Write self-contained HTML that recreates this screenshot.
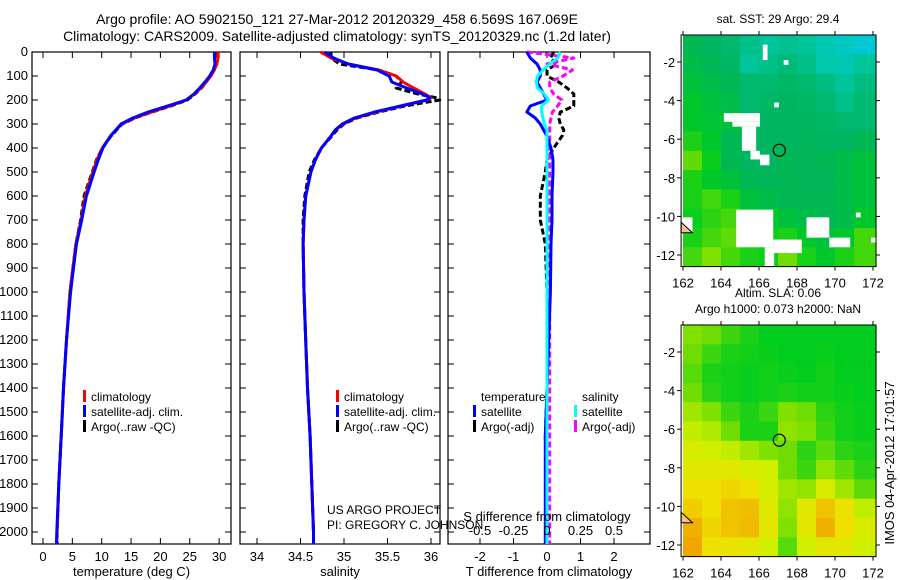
<!DOCTYPE html>
<html><head><meta charset="utf-8"><style>
html,body{margin:0;padding:0;background:#fff;}
svg{display:block;font-family:"Liberation Sans",sans-serif;}
</style></head><body>
<svg id="fig" width="900" height="580" xmlns="http://www.w3.org/2000/svg">
<text x="337" y="24" font-size="14" text-anchor="middle">Argo profile: AO 5902150_121 27-Mar-2012 20120329_458 6.569S 167.069E</text>
<text x="337" y="41" font-size="14" text-anchor="middle">Climatology: CARS2009. Satellite-adjusted climatology: synTS_20120329.nc (1.2d later)</text>
<g id="g1"></g>
<g id="g2"></g>
<g id="g3"></g>
<g id="m1"></g>
<g id="m2"></g>
<text x="327" y="514" font-size="12">US ARGO PROJECT</text>
<text x="327" y="529" font-size="12">PI: GREGORY C. JOHNSON</text>
<text transform="translate(894,463) rotate(-90)" font-size="13" text-anchor="middle">IMOS 04-Apr-2012 17:01:57</text>
</svg>
<script>
// ---- profile data ----
const depths=[0,25,50,75,100,125,150,175,200,225,250,275,300,350,400,450,500,600,700,800,900,1000,1200,1400,1600,1800,2000,2050];
const tempClim=[29.8,29.8,29.6,29.2,28.6,27.8,26.9,25.8,24.4,21.6,18.5,15.6,13.4,11.5,10.1,9.2,8.5,7.2,6.5,5.6,5.1,4.6,4.0,3.5,3.1,2.7,2.4,2.3];
const tempSat=[29.2,29.2,29.3,29.0,28.4,27.6,26.7,25.7,24.4,21.2,17.9,15.3,13.3,11.5,10.2,9.4,8.7,7.4,6.6,5.7,5.2,4.7,4.0,3.5,3.1,2.7,2.35,2.3];
const tempArgo=[29.4,29.5,29.6,29.1,28.5,27.8,27.0,25.9,24.6,21.8,18.6,15.7,13.5,11.6,10.1,9.1,8.4,7.0,6.4,5.6,5.1,4.6,4.0,3.5,3.1,2.7,2.4,2.4];
const sDepths=[0,25,50,75,100,125,150,175,190,200,225,250,275,300,325,350,400,450,500,600,700,800,1000,1200,1400,1600,1800,2000,2050];
const salSat=[34.78,34.88,35.05,35.38,35.52,35.55,35.72,35.9,35.99,35.95,35.65,35.35,35.12,34.98,34.9,34.85,34.74,34.67,34.62,34.56,34.54,34.53,34.54,34.56,34.58,34.61,34.63,34.65,34.65];
const salClim=[34.73,34.85,35.05,35.4,35.6,35.68,35.8,35.93,36.0,35.96,35.66,35.37,35.13,34.99,34.9,34.85,34.74,34.67,34.62,34.56,34.54,34.53,34.54,34.56,34.58,34.61,34.63,34.65,34.65];
const salArgo=[34.85,34.85,34.95,35.4,35.6,35.66,35.6,35.85,36.05,36.1,35.7,35.4,35.15,35.0,34.92,34.86,34.74,34.66,34.6,34.55,34.53,34.53,34.54,34.56,34.58,34.61,34.63,34.65,34.65];
const dDepths=[0,25,50,75,100,125,150,175,200,225,250,275,300,325,350,400,450,500,600,700,800,1000,1200,1400,1600,1800,2000,2050];
const tDiffSat=[-0.6,-0.5,-0.3,-0.2,-0.2,-0.3,-0.2,-0.1,0.0,-0.5,-0.6,-0.35,-0.2,-0.1,0.0,0.12,0.18,0.18,0.15,0.15,0.12,0.1,0.05,0.0,-0.05,-0.05,-0.05,-0.05];
const tDiffArgo=[0.2,0.1,0.3,0.0,0.0,0.35,0.6,0.8,0.8,0.8,0.4,0.35,0.4,0.5,0.45,0.2,0.0,-0.05,-0.2,-0.2,-0.05,0.0,0.0,0.0,-0.05,0.0,0.0,0.0];
const sDiffSat=[0.1,0.08,0.02,-0.03,-0.07,-0.08,-0.07,-0.02,0.01,-0.04,-0.04,-0.03,-0.02,0.0,0.0,0.0,0.0,0.0,0.0,0.0,0.0,0.0,0.0,0.0,0.0,0.0,0.0,0.0];
const sDiffArgo=[-0.15,0.2,0.0,0.19,0.12,0.02,0.02,0.05,0.11,0.08,0.04,0.03,0.02,0.02,0.02,0.02,0.02,0.02,0.02,0.02,0.02,0.02,0.02,0.02,0.02,0.02,0.02,0.02];
const depthTicks=[0,100,200,300,400,500,600,700,800,900,1000,1100,1200,1300,1400,1500,1600,1700,1800,1900,2000];
const tempTicks=[0,5,10,15,20,25,30];
const salTicks=[34,34.5,35,35.5,36];
const tdTicks=[-2,-1,0,1,2];
const sdTickLabels=["-0.5","-0.25","0","0.25","0.5"];
const sdTicks=[-0.5,-0.25,0,0.25,0.5];
// ---- map data (1-degree cells, rows from lat -0.6 southward, cols from lon 162) ----
const sstGrid=[
[0.36,0.34,0.31,0.26,0.23,0.25,0.23,0.18,0.13,0.08],
[0.38,0.36,0.33,0.23,0.26,0.3,0.26,0.2,0.18,0.23],
[0.4,0.38,0.36,0.31,0.31,0.33,0.31,0.28,0.23,0.28],
[0.43,0.4,0.38,0.31,0.33,0.34,0.33,0.31,0.26,0.31],
[0.43,0.41,0.4,0.36,0.34,0.34,0.34,0.33,0.31,0.31],
[0.48,0.43,0.36,0.34,0.34,0.34,0.35,0.34,0.34,0.36],
[0.56,0.46,0.36,0.34,0.34,0.36,0.35,0.36,0.38,0.4],
[0.48,0.43,0.4,0.36,0.35,0.36,0.35,0.35,0.38,0.4],
[0.48,0.53,0.48,0.4,0.38,0.36,0.36,0.36,0.38,0.4],
[0.46,0.5,0.53,0.43,0.43,0.4,0.38,0.36,0.38,0.43],
[0.48,0.53,0.56,0.48,0.46,0.48,0.43,0.4,0.43,0.53],
[0.53,0.6,0.53,0.48,0.46,0.58,0.48,0.43,0.48,0.53]];
const slaGrid=[
[0.6,0.58,0.52,0.48,0.45,0.45,0.45,0.45,0.45,0.45],
[0.58,0.52,0.48,0.47,0.46,0.45,0.45,0.46,0.45,0.45],
[0.55,0.48,0.47,0.46,0.47,0.46,0.45,0.47,0.45,0.45],
[0.58,0.5,0.47,0.46,0.47,0.48,0.47,0.47,0.46,0.45],
[0.64,0.6,0.52,0.48,0.52,0.6,0.58,0.5,0.47,0.46],
[0.68,0.66,0.58,0.48,0.48,0.62,0.6,0.52,0.47,0.46],
[0.72,0.7,0.68,0.64,0.6,0.58,0.5,0.56,0.5,0.48],
[0.75,0.75,0.75,0.72,0.7,0.58,0.52,0.62,0.56,0.5],
[0.8,0.8,0.82,0.8,0.72,0.64,0.62,0.72,0.64,0.56],
[0.84,0.8,0.86,0.87,0.74,0.62,0.75,0.86,0.78,0.68],
[0.9,0.82,0.86,0.88,0.76,0.6,0.75,0.9,0.8,0.72],
[0.92,0.8,0.78,0.76,0.7,0.55,0.7,0.76,0.75,0.7]];
// missing-data regions in SST map: [lon0, lat0, lon1, lat1]
const sstMissing=[[166.2,-1.1,166.45,-1.9],[167.3,-1.9,167.55,-2.15],[166.8,-4.1,167.05,-4.35],
[164.15,-4.65,166.05,-5.1],[164.6,-5.1,166.05,-5.35],[165.1,-5.35,165.85,-6.6],[165.55,-6.6,166.05,-7.05],[166.05,-6.8,166.55,-7.35],
[164.8,-9.65,166.75,-11.6],[166.75,-11.2,168.25,-11.9],[166.3,-11.6,166.8,-12.6],[168.5,-10.05,169.7,-11.1],[169.7,-11.1,170.8,-11.6],[171.1,-9.8,171.35,-10.05],[171.9,-11.1,172.16,-11.35],[161.9,-10.05,162.5,-10.85]];
const lonTicks=[162,164,166,168,170,172];
const latTicks=[-2,-4,-6,-8,-10,-12];
const floatLon=167.069, floatLat=-6.569;

const NS="http://www.w3.org/2000/svg";
function mk(parent,tag,attrs,txt){const e=document.createElementNS(NS,tag);for(const k in attrs)e.setAttribute(k,attrs[k]);if(txt!==undefined)e.textContent=txt;parent.appendChild(e);return e;}
const yD=d=>52+d*0.24;
const TOP=52,BOT=544;

function panel(g,x0,x1,xs,ticks,labels,title,tickName){
  const b=mk(g,'rect',{x:x0,y:TOP,width:x1-x0,height:BOT-TOP,fill:'none',stroke:'#000','stroke-width':1.2});
  
  depthTicks.forEach(d=>{
    mk(g,'line',{x1:x0,x2:x0+6,y1:yD(d),y2:yD(d),stroke:'#000'});
    mk(g,'line',{x1:x1-6,x2:x1,y1:yD(d),y2:yD(d),stroke:'#000'});
  });
  ticks.forEach((t,i)=>{
    const x=xs(t);
    mk(g,'line',{x1:x,x2:x,y1:TOP,y2:TOP+6,stroke:'#000'});
    mk(g,'line',{x1:x,x2:x,y1:BOT-6,y2:BOT,stroke:'#000'});
    const l=mk(g,'text',{x:x,y:561,'font-size':13,'text-anchor':'middle'},labels[i]);
    
  });
  const tt=mk(g,'text',{x:(x0+x1)/2,y:576,'font-size':13,'text-anchor':'middle'},title);
  
}
function line(g,xs,vals,ds,color,dash,name){
  const pts=vals.map((v,i)=>xs(v).toFixed(1)+','+yD(ds[i]).toFixed(1)).join(' ');
  const a={points:pts,fill:'none',stroke:color,'stroke-width':3,'stroke-linejoin':'round'};
  if(dash)a['stroke-dasharray']=dash;
  const p=mk(g,'polyline',a);
  
}
function legend(g,x,y,color,label){
  mk(g,'rect',{x:x,y:y-11,width:3,height:12,fill:color});
  const t=mk(g,'text',{x:x+8,y:y,'font-size':12},label);
  
}
// panel 1
const g1=document.getElementById('g1');
const xT=t=>43+t*5.87;
panel(g1,32,231,xT,tempTicks,tempTicks.map(String),'temperature (deg C)','temperature-tick');
depthTicks.forEach(d=>{const t=mk(g1,'text',{x:28,y:yD(d)+4,'font-size':13,'text-anchor':'end'},String(d));
  });
line(g1,xT,tempArgo,depths,'#000','6 3','argo-temperature-line');
line(g1,xT,tempClim,depths,'#f00',null,'climatology-temperature-line');
line(g1,xT,tempSat,depths,'#00f',null,'satellite-temperature-line');
legend(g1,83,401,'#f00','climatology');legend(g1,83,416,'#00f','satellite-adj. clim.');legend(g1,83,431,'#000','Argo(..raw -QC)');
// panel 2
const g2=document.getElementById('g2');
const xS=s=>257+(s-34)*87;
panel(g2,240,440,xS,salTicks,salTicks.map(String),'salinity','salinity-tick');
line(g2,xS,salArgo,sDepths,'#000','6 3','argo-salinity-line');
line(g2,xS,salClim,sDepths,'#f00',null,'climatology-salinity-line');
line(g2,xS,salSat,sDepths,'#00f',null,'satellite-salinity-line');
legend(g2,336,401,'#f00','climatology');legend(g2,336,416,'#00f','satellite-adj. clim.');legend(g2,336,431,'#000','Argo(..raw -QC)');
// panel 3
const g3=document.getElementById('g3');
const xTD=t=>547+t*33.5;
const xSD=s=>547+s*4*33.5;
panel(g3,448,650,xTD,tdTicks,tdTicks.map(String),'T difference from climatology','tdiff-tick');
line(g3,xTD,tDiffArgo,dDepths,'#000','6 3','argo-tdiff-line');
line(g3,xSD,sDiffArgo,dDepths,'#f0f','6 3','argo-sdiff-line');
line(g3,xTD,tDiffSat,dDepths,'#00f',null,'satellite-tdiff-line');
line(g3,xSD,sDiffSat,dDepths,'#0ff',null,'satellite-sdiff-line');
sdTicks.forEach((s,i)=>{const t=mk(g3,'text',{x:xSD(s),y:535,'font-size':13,'text-anchor':'middle'},sdTickLabels[i]);
  });
const st=mk(g3,'text',{x:547,y:521,'font-size':13,'text-anchor':'middle'},'S difference from climatology');

const lh1=mk(g3,'text',{x:481,y:401,'font-size':12},'temperature');
const lh2=mk(g3,'text',{x:582,y:401,'font-size':12},'salinity');
legend(g3,473,416,'#00f','satellite');legend(g3,473,431,'#000','Argo(-adj)');
legend(g3,574,416,'#0ff','satellite');legend(g3,574,431,'#f0f','Argo(-adj)');

// ---- maps ----
const cstops=[[0,[0,200,240]],[0.2,[0,200,170]],[0.35,[0,180,90]],[0.45,[0,205,30]],[0.6,[128,224,0]],[0.7,[208,240,0]],[0.8,[240,224,0]],[0.9,[240,176,0]],[1,[240,128,0]]];
function cmap(v){for(let i=1;i<cstops.length;i++){if(v<=cstops[i][0]){const a=cstops[i-1],b=cstops[i],f=(v-a[0])/(b[0]-a[0]);
  const c=a[1].map((q,k)=>Math.round(q+(b[1][k]-q)*f));return `rgb(${c[0]},${c[1]},${c[2]})`;}}return 'rgb(240,128,0)';}
function map(g,yo,grid,missing,titles,nm){
  const xL=l=>683+(l-162)*19;
  const yL=l=>yo+62+(-2-l)*19.3;
  const L=xL(161.9),R=xL(172.16),T=yL(-0.6),B=yL(-12.6);
  grid.forEach((row,r)=>row.forEach((v,c)=>{
    const lon0=Math.max(161.9,162+c),lon1=c===row.length-1?172.16:163+c;
    const lat0=-0.6-r,lat1=-1.6-r;
    const e=mk(g,'rect',{x:xL(lon0),y:yL(lat0),width:xL(lon1)-xL(lon0)+0.5,height:yL(lat1)-yL(lat0)+0.5,fill:cmap(v)});
    
  }));
  missing.forEach(m=>{const e=mk(g,'rect',{x:xL(m[0]),y:yL(m[1]),width:xL(m[2])-xL(m[0]),height:yL(m[3])-yL(m[1]),fill:'#fff'});
    });
  const land=mk(g,'polygon',{points:`${xL(161.9)},${yL(-10.3)} ${xL(162.5)},${yL(-10.85)} ${xL(161.9)},${yL(-10.85)}`,fill:'#f5c090',stroke:'#000','stroke-width':1});
  
  mk(g,'rect',{x:L,y:T,width:R-L,height:B-T,fill:'none',stroke:'#000','stroke-width':1});
  lonTicks.forEach(l=>{mk(g,'line',{x1:xL(l),x2:xL(l),y1:T-4,y2:T,stroke:'#000'});mk(g,'line',{x1:xL(l),x2:xL(l),y1:B,y2:B+4,stroke:'#000'});
    const t=mk(g,'text',{x:xL(l),y:B+21,'font-size':13,'text-anchor':'middle'},String(l));});
  latTicks.forEach(l=>{mk(g,'line',{x1:L-4,x2:L,y1:yL(l),y2:yL(l),stroke:'#000'});mk(g,'line',{x1:R,x2:R+4,y1:yL(l),y2:yL(l),stroke:'#000'});
    const t=mk(g,'text',{x:L-6,y:yL(l)+5,'font-size':13,'text-anchor':'end'},String(l));});
  const c=mk(g,'circle',{cx:xL(floatLon),cy:yL(floatLat),r:6,fill:'none',stroke:'#000','stroke-width':1.2});
  
  titles.forEach((s,i)=>{const t=mk(g,'text',{x:778,y:yo+23-(titles.length-1-i)*16,'font-size':12,'text-anchor':'middle'},s);
    });
}
map(document.getElementById('m1'),0,sstGrid,sstMissing,['sat. SST: 29 Argo: 29.4'],'sst');
map(document.getElementById('m2'),290,slaGrid,[],['Altim. SLA: 0.06','Argo h1000: 0.073 h2000: NaN'],'sla');
</script>
</body></html>
